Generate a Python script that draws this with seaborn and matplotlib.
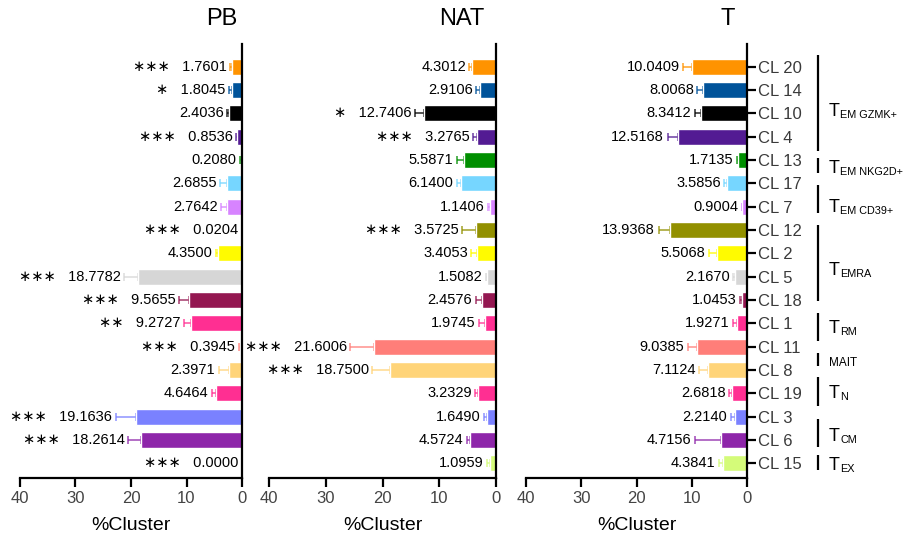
import numpy as np
import pandas as pd
import matplotlib
matplotlib.use('Agg')
import matplotlib.pyplot as plt
import seaborn as sns

# ---------------- data ----------------
clusters = ['CL 20', 'CL 14', 'CL 10', 'CL 4', 'CL 13', 'CL 17', 'CL 7', 'CL 12', 'CL 2',
            'CL 5', 'CL 18', 'CL 1', 'CL 11', 'CL 8', 'CL 19', 'CL 3', 'CL 6', 'CL 15']

bar_colors = ['#FF9300', '#00539A', '#000000', '#531B93', '#008F00', '#76D6FF', '#D783FF',
              '#929000', '#FFFB00', '#D6D6D6', '#941751', '#FF2F92', '#FF7E79', '#FFD479',
              '#FF2F92', '#7A81FF', '#8E26AA', '#D4FB79']

pb_values = [1.7601, 1.8045, 2.4036, 0.8536, 0.2080, 2.6855, 2.7642, 0.0204, 4.3500,
             18.7782, 9.5655, 9.2727, 0.3945, 2.3971, 4.6464, 19.1636, 18.2614, 0.0000]
pb_errors = [0.4, 0.5, 0.3, 0.15, 0.1, 1.2, 1.0, 0.05, 0.4,
             2.4, 1.7, 1.1, 0.2, 1.8, 0.8, 3.6, 2.2, 0.0]
pb_signif = ['***', '*', '', '***', '', '', '', '***', '',
             '***', '***', '**', '***', '', '', '***', '***', '***']

nat_values = [4.3012, 2.9106, 12.7406, 3.2765, 5.5871, 6.1400, 1.1406, 3.5725, 3.4053,
              1.5082, 2.4576, 1.9745, 21.6006, 18.7500, 3.2329, 1.6490, 4.5724, 1.0959]
nat_errors = [0.4, 0.6, 1.6, 0.8, 1.35, 0.8, 0.2, 2.4, 0.95,
              0.3, 1.1, 1.0, 4.1, 3.1, 0.4, 0.5, 0.6, 0.55]
nat_signif = ['', '', '*', '***', '', '', '', '***', '',
              '', '', '', '***', '***', '', '', '', '']

t_values = [10.0409, 8.0068, 8.3412, 12.5168, 1.7135, 3.5856, 0.9004, 13.9368, 5.5068,
            2.1670, 1.0453, 1.9271, 9.0385, 7.1124, 2.6818, 2.2140, 4.7156, 4.3841]
t_errors = [1.5, 1.0, 1.2, 1.9, 0.2, 0.6, 0.1, 2.1, 1.4,
            0.4, 0.3, 0.6, 1.7, 1.55, 0.6, 0.8, 4.7, 0.8]
t_signif = [''] * 18

panel_titles = ['PB', 'NAT', 'T']
x_ticks = [40, 30, 20, 10, 0]
x_label = '%Cluster'

# group labels: main letter + subscript
group_main = ['T', 'T', 'T', 'T', 'T', 'MAIT', 'T', 'T', 'T']
group_sub = ['EM GZMK+', 'EM NKG2D+', 'EM CD39+', 'EMRA', 'RM', '', 'N', 'CM', 'EX']

# layout (row-coordinates of the bracket lines and label baselines)
group_spans = [(-0.50, 3.61), (3.91, 4.56), (5.07, 6.27), (6.79, 10.04), (10.56, 11.76),
               (12.27, 12.83), (13.30, 14.54), (15.10, 16.30), (16.64, 17.28)]
group_baseline = [2.11, 4.57, 6.21, 8.93, 11.43, 12.83, 14.21, 16.04, 17.28]

# ---------------- style ----------------
sns.set_theme(style='white')
plt.rcParams['font.family'] = ['Liberation Sans', 'DejaVu Sans']

W, H = 907, 538
fig = plt.figure(figsize=(W / 100, H / 100), dpi=100)

axes_x = [(20, 222), (269.3, 226.7), (526, 221.3)]
ax_top, ax_bot = 44, 478
title_x = [222, 462, 728]

palette = dict(zip(clusters, bar_colors))
panels = [(pb_values, pb_errors, pb_signif),
          (nat_values, nat_errors, nat_signif),
          (t_values, t_errors, t_signif)]

axes = []
for k, (vals, errs, sig) in enumerate(panels):
    x0, w = axes_x[k]
    ax = fig.add_axes([x0 / W, 1 - ax_bot / H, w / W, (ax_bot - ax_top) / H])
    axes.append(ax)
    df = pd.DataFrame({'cluster': clusters, 'value': vals})
    sns.barplot(data=df, x='value', y='cluster', hue='cluster', palette=palette,
                order=clusters, hue_order=clusters, orient='h', width=0.69,
                saturation=1, legend=False, errorbar=None, ax=ax, zorder=2)
    ax.set_xlim(40, 0)
    ax.set_ylim(17.63, -0.97)

    for i, (v, e, c, s) in enumerate(zip(vals, errs, bar_colors, sig)):
        if e > 0:
            ax.errorbar(v, i, xerr=[[0], [e]], fmt='none', ecolor=c, elinewidth=1.1,
                        capsize=3, capthick=1.1, zorder=1, alpha=0.85)
        label = f'{v:.4f}'
        if s:
            label = '\u2217' * len(s) + '   ' + label
        ax.annotate(label, xy=(v + e, i), xytext=(-2.5, 0), textcoords='offset points',
                    ha='right', va='center', fontsize=10.5, color='black',
                    annotation_clip=False)

    for side in ['top', 'left']:
        ax.spines[side].set_visible(False)
    for side in ['right', 'bottom']:
        ax.spines[side].set_visible(True)
        ax.spines[side].set_linewidth(1.6)
        ax.spines[side].set_color('black')

    ax.set_xticks(x_ticks)
    ax.set_xticklabels([str(t) for t in x_ticks])
    ax.tick_params(axis='x', bottom=True, direction='out', length=6.5, width=1.6,
                   color='black', labelsize=12, labelcolor='#444444', pad=3)
    ax.set_xlabel(x_label, fontsize=14, color='black', labelpad=8)
    ax.set_ylabel('')

    if k < 2:
        ax.tick_params(axis='y', left=False, right=False, labelleft=False, labelright=False)
    else:
        ax.yaxis.tick_right()
        ax.tick_params(axis='y', left=False, right=True, labelleft=False, labelright=True,
                       direction='out', length=6.5, width=1.6, color='black',
                       labelsize=12, labelcolor='#3a3a3a', pad=1.5)

    fig.text(title_x[k] / W, 1 - 19 / H, panel_titles[k], fontsize=17,
             ha='center', va='center', color='black')

# group brackets on the right of the T panel
axT = axes[2]
line_x = (818 - 526) / 221.3
text_x = (829 - 526) / 221.3
trans = axT.get_yaxis_transform()
for main, sub, (a, b), yb in zip(group_main, group_sub, group_spans, group_baseline):
    axT.plot([line_x, line_x], [a, b], transform=trans, clip_on=False,
             color='black', lw=1.6, solid_capstyle='butt')
    if sub:
        axT.text(text_x, yb, main, transform=trans, fontsize=13, ha='left',
                 va='baseline', color='black', clip_on=False)
        axT.annotate(sub, xy=(text_x, yb), xycoords=trans, xytext=(8.2, -1.5),
                     textcoords='offset points', fontsize=7.8, ha='left',
                     va='baseline', color='black', annotation_clip=False)
    else:
        axT.text(text_x, yb, main, transform=trans, fontsize=8.5, ha='left',
                 va='baseline', color='black', clip_on=False)

fig.savefig('out.png', dpi=100)
